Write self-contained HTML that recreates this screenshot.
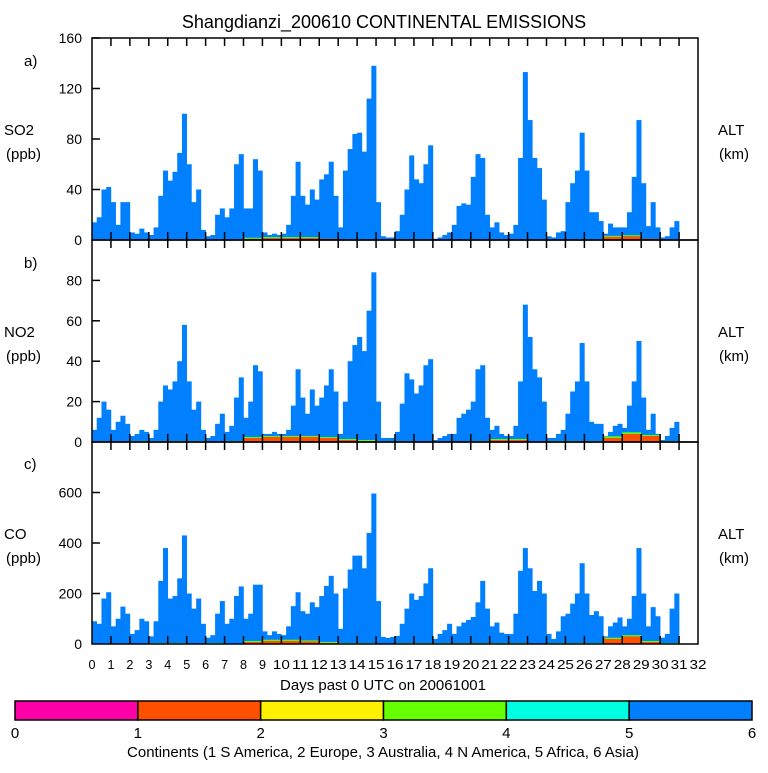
<!DOCTYPE html>
<html><head><meta charset="utf-8"><style>
html,body{margin:0;padding:0;background:#fff;}
svg text{font-family:"Liberation Sans",Arial,sans-serif;fill:#000;}
</style></head><body>
<svg id="chart" width="768" height="768" viewBox="0 0 768 768" xmlns="http://www.w3.org/2000/svg">
<rect width="768" height="768" fill="#fff"/>
<text x="384" y="28" font-size="18" text-anchor="middle">Shangdianzi_200610 CONTINENTAL EMISSIONS</text>
<g id="panels"></g>
<text x="383" y="690" font-size="15" text-anchor="middle">Days past 0 UTC on 20061001</text>
<g id="colorbar"></g>
<text x="383" y="757" font-size="15" text-anchor="middle">Continents (1 S America, 2 Europe, 3 Australia, 4 N America, 5 Africa, 6 Asia)</text>
</svg>
<script>
// 6-hourly totals (ppb)
const so2 = [14,18,40,42, 30,12,30,30, 6,5,9,6, 4,10,35,55, 47,54,69,100, 60,30,40,8, 3,4,20,25, 18,25,60,68, 25,25,64,55, 6,4,5,4, 5,12,35,62, 35,28,40,32, 48,52,62,35, 10,55,72,84, 85,70,112,138, 30,3,2,2, 7,20,40,67, 48,45,60,75, 1,2,4,6, 12,27,29,28, 50,68,65,20, 10,14,6,4, 5,12,65,133, 95,65,57,32, 3,2,6,7, 30,45,55,85, 55,22,22,15, 5,13,10,10, 10,22,50,95, 45,11,30,10, 2,3,10,15];
const no2 = [6,12,20,16, 6,10,13,9, 3,4,6,5, 2,6,20,28, 26,30,40,58, 30,16,20,6, 2,3,9,14, 5,8,22,32, 12,20,38,35, 4,4,5,4, 4,6,18,36, 22,14,26,18, 22,28,36,25, 4,20,40,48, 52,45,65,84, 20,2,2,2, 5,19,34,31, 24,28,38,41, 1,2,3,4, 4,12,14,16, 20,36,38,12, 6,8,4,3, 3,8,30,68, 52,36,32,20, 2,2,4,6, 14,25,30,49, 30,10,9,9, 3,5,8,9, 7,18,30,50, 22,6,14,4, 1,3,7,10];
const co = [90,80,180,205, 70,100,148,120, 40,55,100,90, 30,90,250,380, 180,190,260,430, 200,140,180,80, 25,35,120,170, 80,100,190,228, 100,120,235,235, 50,35,50,40, 35,70,150,205, 130,120,165,146, 190,230,270,200, 60,220,295,350, 350,300,440,596, 170,28,24,28, 32,80,140,200, 175,190,240,300, 20,40,55,80, 40,70,85,95, 107,165,250,140, 70,85,45,40, 40,120,290,380, 300,210,250,200, 40,20,50,110, 120,160,200,320, 200,115,130,110, 30,70,85,105, 70,100,190,380, 200,70,146,110, 25,40,140,200];
// daily minor contributions (Europe = orange, N America = green)
const so2Europe = [0,0,0,0,0,0,0,0,1,1.5,1.5,1.5,1,0,0,0,0,0,0,0,0,0,0,0,0,0,0,2.5,3,1,0];
const so2NAmerica = [0,0,0,0,0,0,0,0,0.7,0.7,0.7,0.7,0,0,0,0,0,0,0,0,0,0,0,0,0,0,0,0.7,0.7,0,0];
const no2Europe = [0,0,0,0,0,0,0,0,2,2.5,2.5,2.5,2,1,0.5,0,0,0,0,0,0,1,1,0,0,0,0,2,4,3,0];
const no2NAmerica = [0,0,0.5,0.5,0.5,0.5,0,0.5,0.5,0.5,0.5,0.5,0.5,0.5,0.5,0.5,0.5,0,0,0,0.5,0.5,0.5,0,0.5,0.5,0.5,0.8,0.8,0.5,0.5];
const coEurope = [0,0,0,0,0,0,0,0,8,12,12,10,4,0,0,0,0,0,0,0,0,0,0,0,0,0,0,20,30,8,0];
const coNAmerica = [0,0,0,4,4,0,4,0,4,5,5,4,4,4,3,0,3,3,3,3,3,3,3,0,3,3,3,5,5,4,4];
const soTicks = [0,40,80,120,160];
const noTicks = [0,20,40,60,80];
const coTicks = [0,200,400,600];
const dayLabels = [0,1,2,3,4,5,6,7,8,9,10,11,12,13,14,15,16,17,18,19,20,21,22,23,24,25,26,27,28,29,30,31,32];
const continentLabels = [0,1,2,3,4,5,6];
const continentColors = ['#ff00a8','#ff5000','#fff000','#66ff00','#00ffe0','#0080ff'];

const NS='http://www.w3.org/2000/svg';
const X0=92, X1=698, DAYS=32;
function xs(d){return X0+(X1-X0)*d/DAYS;}
function mk(tag,attrs,parent){const e=document.createElementNS(NS,tag);for(const k in attrs)e.setAttribute(k,attrs[k]);parent.appendChild(e);return e;}
const root=document.getElementById('panels');

const panels=[
 {key:'so2',top:38,bot:240,max:160,vals:so2,eu:so2Europe,na:so2NAmerica,ticks:soTicks,letter:'a)',name:'SO2',ly:60},
 {key:'no2',top:240,bot:442,max:100,vals:no2,eu:no2Europe,na:no2NAmerica,ticks:noTicks,letter:'b)',name:'NO2',ly:262},
 {key:'co',top:442,bot:644,max:800,vals:co,eu:coEurope,na:coNAmerica,ticks:coTicks,letter:'c)',name:'CO',ly:463}
];
panels.forEach(p=>{
 const g=mk('g',{},root);
 
 
 const ys=v=>p.bot-(p.bot-p.top)*v/p.max;
 const bw=(X1-X0)/DAYS/4;
 p.vals.forEach((v,i)=>{
  const x=X0+i*bw, y=ys(v);
  const r=mk('rect',{x:x.toFixed(2),y:y.toFixed(2),width:(bw+0.3).toFixed(2),height:(p.bot-y).toFixed(2),fill:'#0080ff'},g);
  
  
 });
 p.eu.forEach((v,d)=>{
  const n=p.na[d];
  if(v>0){const y=ys(v);
   const r=mk('rect',{x:xs(d).toFixed(2),y:y.toFixed(2),width:(bw*4).toFixed(2),height:(p.bot-y).toFixed(2),fill:'#ff5000'},g);
   
   }
  if(n>0){const y0=ys(v),y1=Math.min(ys(v+n),y0-1);
   const r=mk('rect',{x:xs(d).toFixed(2),y:y1.toFixed(2),width:(bw*4).toFixed(2),height:(y0-y1).toFixed(2),fill:'#66ff00'},g);
   
   }
 });
 const fr=mk('rect',{x:X0,y:p.top,width:X1-X0,height:p.bot-p.top,fill:'none',stroke:'#000','stroke-width':1.5},g);
 
 
 dayLabels.forEach(d=>{
  if(d===0||d===DAYS)return;
  const x=xs(d);
  mk('line',{x1:x,x2:x,y1:p.bot,y2:p.bot-8,stroke:'#000','stroke-width':1.5},g);
  mk('line',{x1:x,x2:x,y1:p.top,y2:p.top+8,stroke:'#000','stroke-width':1.5},g);
 });
 p.ticks.forEach(t=>{
  const y=ys(t);
  if(t>0)mk('line',{x1:X0,x2:X0+8,y1:y,y2:y,stroke:'#000','stroke-width':1.5},g);
  const tl=mk('text',{x:82,y:y+5,'font-size':14,'text-anchor':'end'},g);
  tl.textContent=t;
  
  
 });
 const lt=mk('text',{x:24,y:p.ly+6,'font-size':15},g);lt.textContent=p.letter;
 
 
 const yc=p.top+(p.bot-p.top)*0.45+6;
 const nm=mk('text',{x:4,y:yc,'font-size':15},g);nm.textContent=p.name;
 
 
 const un=mk('text',{x:6,y:yc+24,'font-size':15},g);un.textContent='(ppb)';
 
 
 const al=mk('text',{x:718,y:yc,'font-size':15},g);al.textContent='ALT';
 
 
 const km=mk('text',{x:719,y:yc+24,'font-size':15},g);km.textContent='(km)';
 
 
});
dayLabels.forEach(d=>{
 const t=mk('text',{x:xs(d),y:669,'font-size':13,'text-anchor':'middle','textLength':(d>=10?17:7),'lengthAdjust':'spacingAndGlyphs'},root);
 t.textContent=d;
 
 
});
const cb=document.getElementById('colorbar');
const CB0=15, CB1=752;
continentColors.forEach((c,i)=>{
 const w=(CB1-CB0)/continentColors.length;
 const r=mk('rect',{x:CB0+i*w,y:701,width:w,height:19,fill:c,stroke:'#000','stroke-width':1.5},cb);
 
 
});
continentLabels.forEach(v=>{
 const t=mk('text',{x:CB0+(CB1-CB0)*v/6,y:738,'font-size':15,'text-anchor':'middle'},cb);
 t.textContent=v;
 
 
});
</script>
</body></html>
